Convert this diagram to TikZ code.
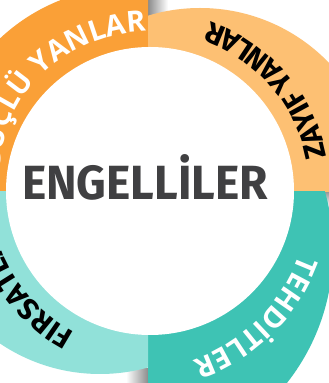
\documentclass[tikz,border=0pt]{standalone}
\usepackage{fontspec}
\setmainfont{Open Sans}
\newfontfamily\ringfont{Open Sans}
\newfontfamily\ringfontb{Fira Sans}
\newfontfamily\titlefont{Fira Sans}
\usetikzlibrary{decorations.text,calc}
\definecolor{cOrange}{RGB}{250,160,55}
\definecolor{cLightOrange}{RGB}{253,192,115}
\definecolor{cTeal}{RGB}{62,195,180}
\definecolor{cLightTeal}{RGB}{145,225,217}
\definecolor{cTitle}{RGB}{64,64,66}
\newcommand{\ringsize}{\ringfont\bfseries\fontsize{29}{30}\selectfont}
\newcommand{\ringsizeb}{\ringfontb\bfseries\fontsize{29.5}{30}\selectfont}
\tikzset{
  titletext/.style={text=cTitle, font=\titlefont\bfseries\fontsize{48}{50}\selectfont, inner sep=0pt, anchor=base},
  ringwhite/.style={decorate, decoration={text along path, text format delimiters={|}{|}, text={|\ringsize\color{white}|#1}}},
  ringblack/.style={decorate, decoration={text along path, text format delimiters={|}{|}, text={|\ringsizeb\color{black}|#1}}}
}
\begin{document}
\begin{tikzpicture}[x=1pt,y=1pt]
\useasboundingbox (0,0) rectangle (329,383);
\clip (0,0) rectangle (329,383);
\fill[white] (0,0) rectangle (329,383);
% shadows
\shade[left color=black!45, right color=white] (148,366) rectangle (168,383);
\shade[top color=black!40, bottom color=white] (316,176) rectangle (329,191);
\shade[left color=white, right color=black!45] (126,0) rectangle (148,14);
% quadrants
\begin{scope}\clip (-50,191) rectangle (148,450); \fill[cOrange] (130,206) circle[radius=190]; \end{scope}
\begin{scope}\clip (148,191) rectangle (400,450); \fill[cLightOrange] (200,196) circle[radius=179]; \end{scope}
\begin{scope}\clip (148,-50) rectangle (400,191); \fill[cTeal] (118,133) circle[radius=215]; \end{scope}
\begin{scope}\clip (-50,-50) rectangle (148,191); \fill[cLightTeal] (100,188) circle[radius=179]; \end{scope}
\coordinate (C) at (150,192);
\coordinate (P) at (135,188);
\coordinate (Q) at (140.7,207.5);
\fill[white] (C) circle[radius=144];
% ring texts
\path[ringwhite={GÜÇLÜ YANLAR}, decoration={text align=right}]
  ($(Q)+(200:141.2)$) arc[start angle=200, end angle=122, radius=141.2]
  arc[start angle=122, end angle=91.5, radius=159.5];
\path[ringblack={ZAYIF YANLAR}, decoration={text align=left}] ($(C)+(11:180)$) arc[start angle=11, end angle=100, radius=180];
\path[ringwhite={TEHDİTLER}, decoration={text align=left}] ($(P)+(-20:175)$) arc[start angle=-20, end angle=-110, radius=175];
\path[ringblack={FIRSATLAR}, decoration={text align=left}] ($(C)+(242:160)$) arc[start angle=242, end angle=150, radius=160];
% title
\node[titletext, xscale=0.96] (title) at (145,183) {ENGELLİLER};
\end{tikzpicture}
\end{document}
